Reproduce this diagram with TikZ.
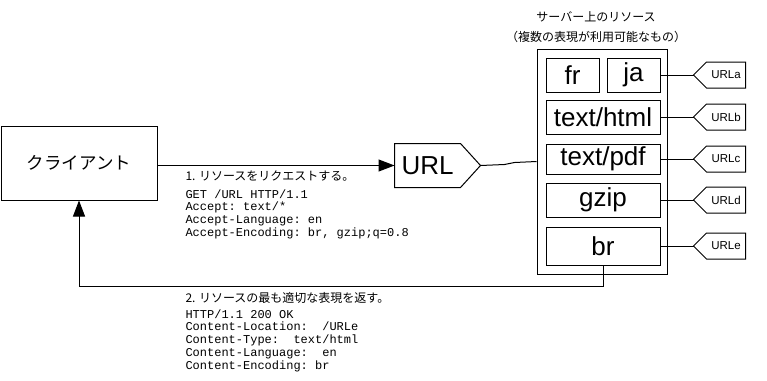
\documentclass[tikz,border=0pt]{standalone}
\usepackage{fontspec}
\setmainfont{Liberation Sans}
\setmonofont{Liberation Mono}
\newfontfamily\jpfont{Noto Sans CJK JP}
\usetikzlibrary{positioning,arrows.meta}

\begin{document}
\begin{tikzpicture}[x=1pt, y=-1pt, line width=1pt, >={Triangle[length=16pt, width=12pt]},
    client/.style={draw, minimum width=156pt, minimum height=74pt, font=\jpfont\fontsize{17.5}{20}\selectfont},
    rep/.style={draw, inner sep=0pt, minimum height=34pt, font=\fontsize{26}{30}\selectfont},
    tag/.style={inner sep=0pt, minimum width=38pt, minimum height=25pt, font=\fontsize{11.5}{13}\selectfont},
    jp/.style={inner sep=0pt, font=\jpfont\fontsize{12}{14}\selectfont},
    hdr/.style={inner sep=0pt, align=left, font=\ttfamily\fontsize{12}{12.7}\selectfont}]
  \useasboundingbox (0,0) rectangle (767,380);
  \node[client] (client) at (79,163) {クライアント};
  \node[rep, minimum width=65pt, minimum height=43pt, draw=none] (url) at (427.5,165.5) {URL};
  \draw (url.north west) -- (url.north east) -- ([xshift=20pt]url.east) coordinate (urltip)
    -- (url.south east) -- (url.south west) -- cycle;
  % resource on the server
  \node[draw, minimum width=130pt, minimum height=225pt] (server) at (602,161.5) {};
  \node[jp, align=center, font=\jpfont\fontsize{12}{20}\selectfont] (title) at (596,27.5)
    {サーバー上のリソース\\（複数の表現が利用可能なもの）};
  \node[rep, minimum width=53pt] (fr) at (572.5,75) {fr};
  \node[rep, minimum width=53pt] (ja) at (633.5,75) {ja};
  \node[rep, minimum width=114pt] (html) at (603,117) {text/html};
  \node[rep, minimum width=114pt, minimum height=30pt] (pdf) at (603,159) {text/pdf};
  \node[rep, minimum width=114pt] (gzip) at (603,200) {gzip};
  \node[rep, minimum width=114pt, minimum height=38pt] (br) at (603,246) {br};
  \foreach \n/\y/\src in {a/75/ja, b/117/html, c/159/pdf, d/200/gzip, e/246/br} {
    \node[tag] (url\n) at (726,\y) {URL\n};
    \draw (url\n.north east) -- (url\n.north west) -- ([xshift=-13pt]url\n.west) coordinate (tip\n)
      -- (url\n.south west) -- (url\n.south east) -- cycle;
    \draw (\src) -- (tip\n);
  }
  % request and response
  \draw[->] (client.east |- url.west) -- (url.west);
  \draw (urltip) -- ++(24,-1) -- ++(10,-2) -- (server.west);
  \draw[->] (br.south) -- ++(0,21) -| (client.south);
  \node[jp, anchor=west] (req) at (185,176.5) {1. リソースをリクエストする。};
  \node[hdr, anchor=north west] (reqhdr) at (185,189)
    {GET /URL HTTP/1.1\\Accept: text/*\\Accept-Language: en\\Accept-Encoding: br, gzip;q=0.8};
  \node[jp, anchor=west] (res) at (185,298) {2. リソースの最も適切な表現を返す。};
  \node[hdr, anchor=north west] (reshdr) at (185,309)
    {HTTP/1.1 200 OK\\Content-Location:\ \ /URLe\\Content-Type:\ \ text/html\\Content-Language:\ \ en\\Content-Encoding: br};
\end{tikzpicture}
\end{document}
